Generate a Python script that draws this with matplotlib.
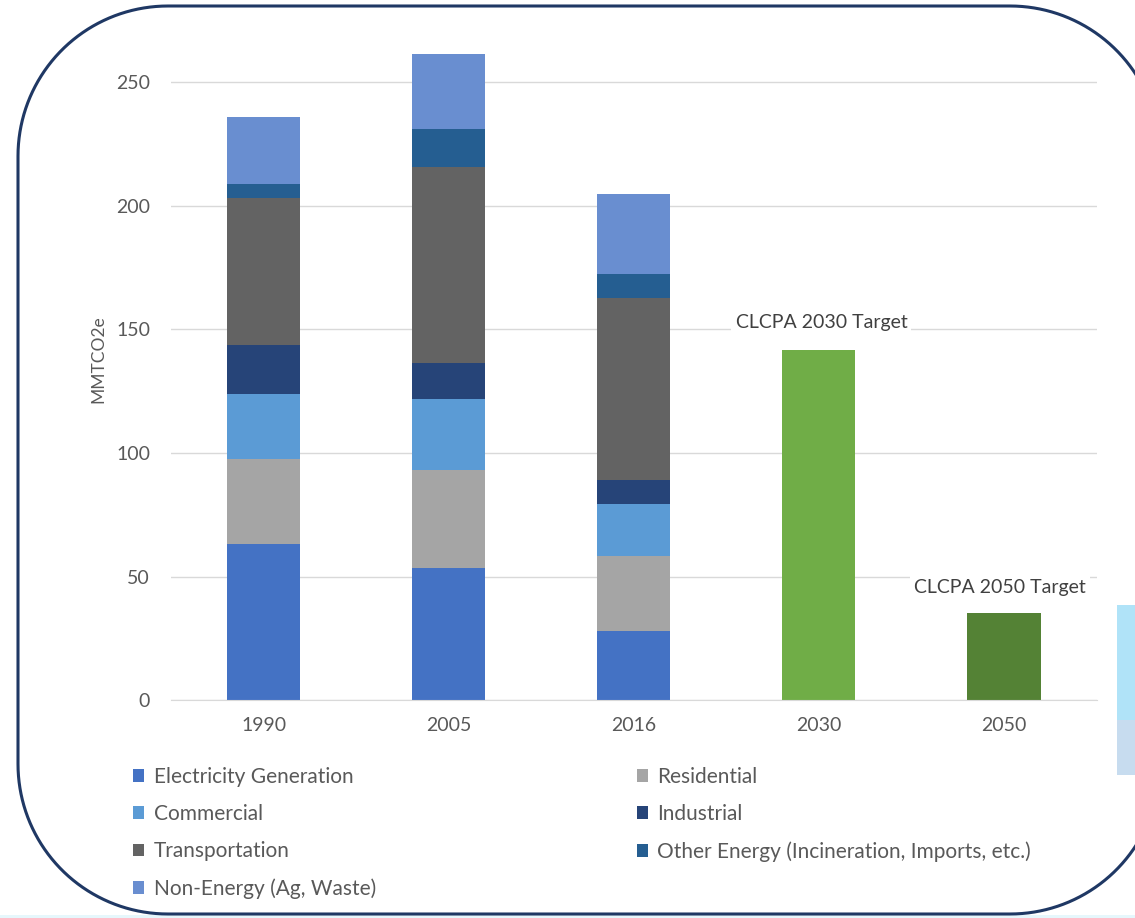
import matplotlib
matplotlib.use("Agg")
from matplotlib import pyplot as plt
from matplotlib.patches import Polygon, Rectangle, Patch
import numpy as np

plt.rcParams['font.family'] = ['Lato', 'DejaVu Sans']

years = ['1990', '2005', '2016', '2030', '2050']
electricity = [63.2, 53.4, 27.8, 0, 0]
residential = [34.4, 39.6, 30.5, 0, 0]
commercial = [26.3, 28.9, 20.9, 0, 0]
industrial = [19.8, 14.5, 10.0, 0, 0]
transportation = [59.5, 79.4, 73.6, 0, 0]
other_energy = [5.7, 15.2, 9.7, 0, 0]
non_energy = [27.1, 30.5, 32.4, 0, 0]
target_2030 = [0, 0, 0, 141.7, 0]
target_2050 = [0, 0, 0, 0, 35.3]

sectors = ['Electricity Generation', 'Residential', 'Commercial', 'Industrial',
           'Transportation', 'Other Energy (Incineration, Imports, etc.)',
           'Non-Energy (Ag, Waste)']
sector_values = [electricity, residential, commercial, industrial,
                 transportation, other_energy, non_energy]
sector_colors = ['#4472C4', '#A5A5A5', '#5B9BD5', '#264478',
                 '#636363', '#255E91', '#698ED0']

W, H = 1135, 918


def rounded_frame(x0, y0, x1, y1, r):
    # outline of a rectangle with circular corners, in pixel coords (y down)
    pts = []
    corners = [(x1 - r, y0 + r, -90, 0), (x1 - r, y1 - r, 0, 90),
               (x0 + r, y1 - r, 90, 180), (x0 + r, y0 + r, 180, 270)]
    for cx, cy, a0, a1 in corners:
        t = np.radians(np.linspace(a0, a1, 40))
        pts += list(zip(cx + r * np.cos(t), cy + r * np.sin(t)))
    return pts


fig = plt.figure(figsize=(W / 100, H / 100), dpi=100)

# background decoration (frame in pixel coords)
bg = fig.add_axes([0, 0, 1, 1], zorder=-5)
bg.set_xlim(0, W)
bg.set_ylim(H, 0)
bg.axis('off')
bg.add_patch(Rectangle((0, 915), W, 10, facecolor='#E6F7FC', edgecolor='none'))
bg.add_patch(Polygon(rounded_frame(18, 6, 1160, 914, 150), closed=True,
                     facecolor='white', edgecolor='#1F3864', linewidth=2.2))
bg.add_patch(Rectangle((1117, 605), 30, 115, facecolor='#B0E3F8', edgecolor='none'))
bg.add_patch(Rectangle((1117, 720), 30, 55, facecolor='#C7DCEF', edgecolor='none'))

ymax = 270
ax = fig.add_axes([171 / W, 1 - 700 / H, (1096.5 - 171) / W, ymax * 2.47 / H])
ax.patch.set_alpha(0)

x = np.arange(len(years))
width = 0.395
bottom = np.zeros(len(years))
handles = []
for name, vals, col in zip(sectors, sector_values, sector_colors):
    ax.bar(x, vals, width, bottom=bottom, color=col, zorder=2)
    bottom += np.array(vals)
    handles.append(Patch(facecolor=col, label=name))

ax.bar(x, target_2030, width, color='#70AD47', zorder=2)
ax.bar(x, target_2050, width, color='#548235', zorder=2)

ax.text(3.014, target_2030[3] + 11, 'CLCPA 2030 Target', ha='center', va='center',
        fontsize=14, color='#404040', zorder=3,
        bbox=dict(facecolor='white', edgecolor='none', pad=3))
ax.text(3.98, target_2050[4] + 10.4, 'CLCPA 2050 Target', ha='center', va='center',
        fontsize=14, color='#404040', zorder=3,
        bbox=dict(facecolor='white', edgecolor='none', pad=3))

ax.set_xlim(-0.5, 4.5)
ax.set_ylim(0, ymax)
ax.set_yticks([0, 50, 100, 150, 200, 250])
ax.set_xticks(x)
ax.set_xticklabels(years)
ax.grid(axis='y', color='#D9D9D9', linewidth=1, zorder=0)
ax.set_axisbelow(True)
for s in ['top', 'right', 'left']:
    ax.spines[s].set_visible(False)
ax.spines['bottom'].set_color('#D9D9D9')
ax.tick_params(axis='both', length=0, labelsize=14, labelcolor='#595959')
ax.tick_params(axis='y', pad=15)
ax.tick_params(axis='x', pad=12)

fig.text(98 / W, 1 - 359 / H, 'MMTCO2e', rotation=90, ha='center', va='center',
         fontsize=12.5, color='#595959')

# legend, two columns filled column by column
order = [0, 2, 4, 6, 1, 3, 5]
leg = fig.legend([handles[i] for i in order], [sectors[i] for i in order],
                 ncol=2, loc='upper left', bbox_to_anchor=(133 / W, 1 - 767 / H),
                 frameon=False, fontsize=15, labelcolor='#595959',
                 handlelength=0.55, handleheight=0.55, handletextpad=0.45,
                 labelspacing=0.82, columnspacing=12.5, borderpad=0, borderaxespad=0)

fig.savefig('out.png', dpi=100)
